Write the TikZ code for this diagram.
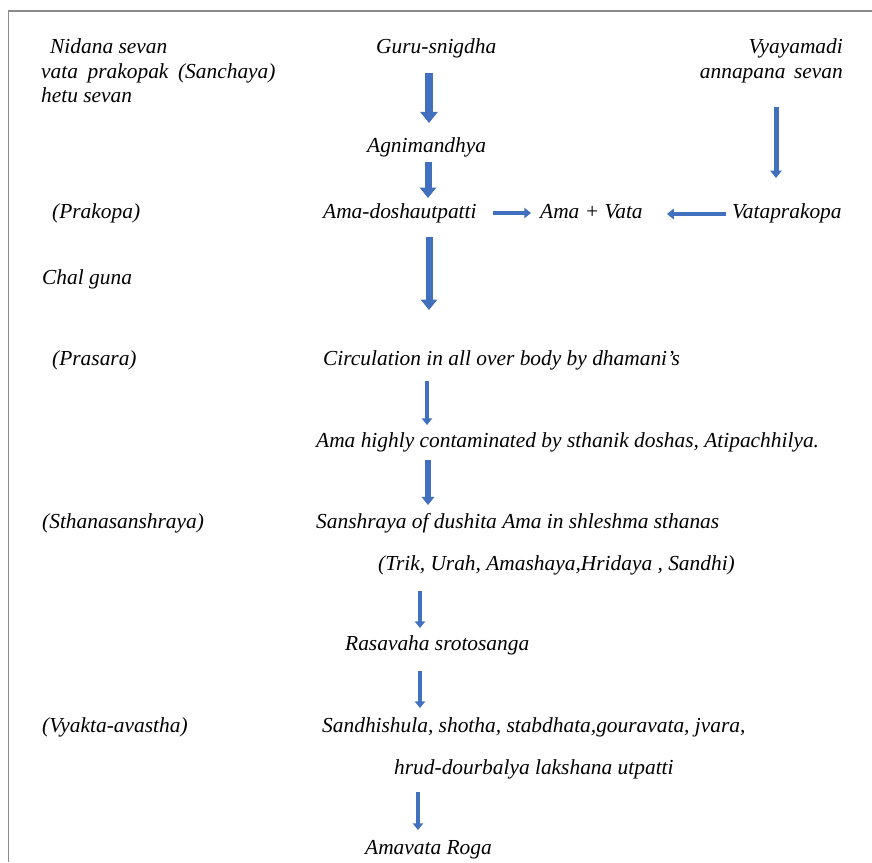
\documentclass[tikz,border=0pt]{standalone}
\usepackage{fontspec}
\setmainfont{Liberation Serif}
\usetikzlibrary{arrows.meta}
\definecolor{arrowblue}{HTML}{4070BE}
\definecolor{framegray}{HTML}{8C8C8C}
\tikzset{
  lbl/.style={anchor=base west, inner sep=0pt, font=\fontsize{21.4}{25}\selectfont\itshape},
  lblr/.style={lbl, anchor=base east},
  bigarrow/.style={draw=arrowblue, line width=#1, -{Triangle[width=2.3*#1, length=1.5*#1]}},
}
\begin{document}
\begin{tikzpicture}[x=1pt,y=-1pt]
\useasboundingbox (0,0) rectangle (872,862);
% frame
\coordinate (fb) at (8.5,862);
\coordinate (ft) at (8.5,11);
\coordinate (fr) at (872,11);
\draw[framegray, line width=1.8pt] (fb) -- (ft) -- (fr);

% left column
\node[lbl] (nid1) at (50,53) {Nidana sevan};
\node[lbl] (nid2) at (41,78) {vata\hspace{0.45em}prakopak\hspace{0.45em}(Sanchaya)};
\node[lbl] (nid3) at (41,102) {hetu sevan};
\node[lbl] (prak) at (52,218) {(Prakopa)};
\node[lbl] (chal) at (42,284) {Chal guna};
\node[lbl] (pras) at (52,365) {(Prasara)};
\node[lbl] (stha) at (42,528) {(Sthanasanshraya)};
\node[lbl] (vyak) at (42,732) {(Vyakta-avastha)};

% centre and right
\node[lbl] (guru) at (376,53) {Guru-snigdha};
\node[lblr] (vyay1) at (843,53) {Vyayamadi};
\node[lblr] (vyay2) at (843,78) {annapana\hspace{0.4em}sevan};
\node[lbl] (agni) at (367,152) {Agnimandhya};
\node[lbl] (amad) at (323,218) {Ama-doshautpatti};
\node[lbl] (amav) at (540,218) {Ama + Vata};
\node[lbl] (vatp) at (732,218) {Vataprakopa};
\node[lbl] (circ) at (323,365) {Circulation in all over body by dhamani’s};
\node[lbl] (amah) at (316,447) {Ama highly contaminated by sthanik doshas, Atipachhilya.};
\node[lbl] (sans) at (316,528) {Sanshraya of dushita Ama in shleshma sthanas};
\node[lbl] (trik) at (378,570) {(Trik, Urah, Amashaya,Hridaya , Sandhi)};
\node[lbl] (rasa) at (345,650) {Rasavaha srotosanga};
\node[lbl] (sand) at (322,732) {Sandhishula, shotha, stabdhata,gouravata, jvara,};
\node[lbl] (hrud) at (394,774) {hrud-dourbalya lakshana utpatti};
\node[lbl] (amro) at (365,854) {Amavata Roga};

% arrow end points
\coordinate (a1s) at (429,73);  \coordinate (a1e) at (429,123);
\coordinate (a2s) at (428,162); \coordinate (a2e) at (428,198);
\coordinate (a3s) at (429,237); \coordinate (a3e) at (429,310);
\coordinate (a4s) at (776,107); \coordinate (a4e) at (776,178);
\coordinate (ars) at (493,213); \coordinate (are) at (531,213);
\coordinate (als) at (726,214); \coordinate (ale) at (667,214);
\coordinate (a5s) at (427,381); \coordinate (a5e) at (427,425);
\coordinate (a6s) at (428,460); \coordinate (a6e) at (428,505);
\coordinate (a7s) at (420,591); \coordinate (a7e) at (420,628);
\coordinate (a8s) at (420,671); \coordinate (a8e) at (420,708);
\coordinate (a9s) at (418,792); \coordinate (a9e) at (418,830);

\draw[bigarrow=7.5pt] (a1s) -- (a1e);
\draw[bigarrow=7pt] (a2s) -- (a2e);
\draw[bigarrow=7pt] (a3s) -- (a3e);
\draw[bigarrow=5pt] (a4s) -- (a4e);
\draw[bigarrow=4.5pt] (ars) -- (are);
\draw[bigarrow=4.5pt] (als) -- (ale);
\draw[bigarrow=4.5pt] (a5s) -- (a5e);
\draw[bigarrow=5.5pt] (a6s) -- (a6e);
\draw[bigarrow=4.5pt] (a7s) -- (a7e);
\draw[bigarrow=4.5pt] (a8s) -- (a8e);
\draw[bigarrow=4.5pt] (a9s) -- (a9e);
\end{tikzpicture}
\end{document}
